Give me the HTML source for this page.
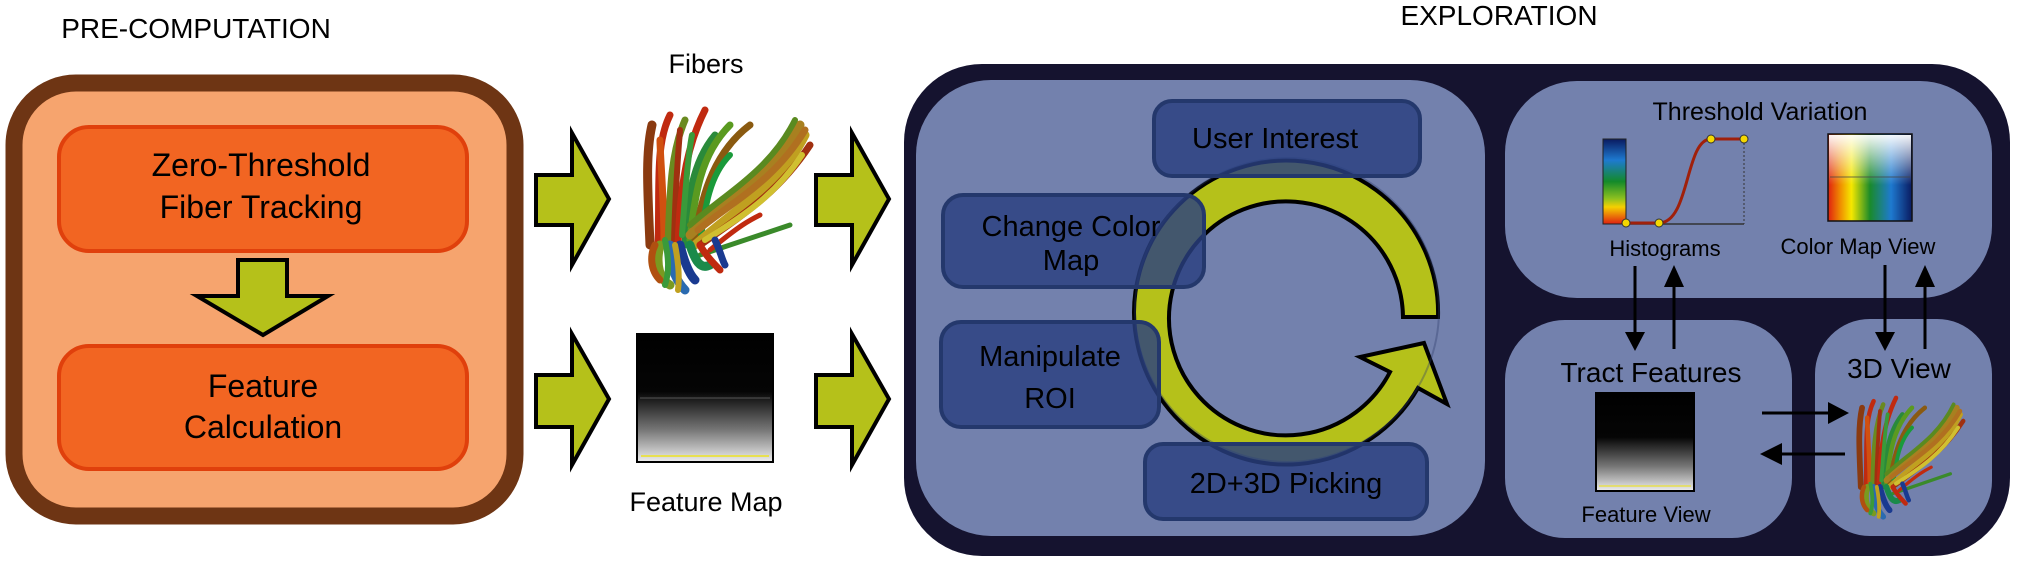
<!DOCTYPE html>
<html><head><meta charset="utf-8"><style>
html,body{margin:0;padding:0;background:#fff;}
svg{display:block;}
text{font-family:"Liberation Sans",sans-serif;fill:#000;}
</style></head><body>
<svg width="2019" height="564" viewBox="0 0 2019 564" xmlns="http://www.w3.org/2000/svg">
<defs>
<linearGradient id="fm" x1="0" y1="0" x2="0" y2="1">
<stop offset="0" stop-color="#000"/><stop offset="0.45" stop-color="#050505"/><stop offset="0.75" stop-color="#777"/><stop offset="1" stop-color="#eee"/></linearGradient>
<linearGradient id="cb" x1="0" y1="0" x2="0" y2="1">
<stop offset="0" stop-color="#0a1a60"/><stop offset="0.25" stop-color="#1e7ad0"/><stop offset="0.5" stop-color="#138a2a"/><stop offset="0.7" stop-color="#8cc020"/><stop offset="0.8" stop-color="#f5d000"/><stop offset="1" stop-color="#e02010"/></linearGradient>
<linearGradient id="cmh" x1="0" y1="0" x2="1" y2="0">
<stop offset="0" stop-color="#e02010"/><stop offset="0.15" stop-color="#f09000"/><stop offset="0.28" stop-color="#f5e800"/><stop offset="0.5" stop-color="#1a8a2a"/><stop offset="0.75" stop-color="#1e7ad0"/><stop offset="1" stop-color="#0a1a60"/></linearGradient>
<linearGradient id="cmv" x1="0" y1="0" x2="0" y2="1">
<stop offset="0" stop-color="#fff" stop-opacity="0.95"/><stop offset="1" stop-color="#fff" stop-opacity="0"/></linearGradient>
<g id="fib" fill="none" stroke-linecap="round">
<path d="M20 150 C18 100 15 60 22 30" stroke="#8a3a10" stroke-width="9"/>
<path d="M28 150 C30 90 25 50 40 20" stroke="#c02a10" stroke-width="7"/>
<path d="M34 150 C34 100 30 60 30 45" stroke="#d05010" stroke-width="7"/>
<path d="M38 150 C40 100 40 60 55 25" stroke="#6a8a20" stroke-width="7"/>
<path d="M44 150 C45 100 48 60 50 35" stroke="#a03010" stroke-width="6"/>
<path d="M48 150 C50 110 52 60 75 15" stroke="#c02a10" stroke-width="7"/>
<path d="M55 150 C58 110 60 70 85 40" stroke="#2a8a3a" stroke-width="7"/>
<path d="M60 145 C65 100 70 60 100 30" stroke="#5a9a20" stroke-width="7"/>
<path d="M65 145 C70 110 80 60 120 30" stroke="#8a5a10" stroke-width="7"/>
<path d="M52 140 C55 100 58 60 62 40" stroke="#3a9a3a" stroke-width="6"/>
<path d="M70 150 C75 110 80 80 100 60" stroke="#1a9a3a" stroke-width="6"/>
<path d="M60 140 C100 100 140 80 170 30" stroke="#a88020" stroke-width="9"/>
<path d="M65 150 C110 110 150 90 175 40" stroke="#c0a020" stroke-width="9"/>
<path d="M70 150 C120 115 150 95 180 50" stroke="#a03010" stroke-width="7"/>
<path d="M75 145 C115 120 145 100 172 60" stroke="#d0c030" stroke-width="6"/>
<path d="M60 130 C100 95 140 75 165 25" stroke="#5a8a20" stroke-width="6"/>
<path d="M68 135 C105 105 145 85 175 35" stroke="#b07020" stroke-width="7"/>
<path d="M70 160 C100 150 130 140 160 130" stroke="#3a8a2a" stroke-width="5"/>
<path d="M80 155 C110 130 120 125 130 120" stroke="#c02a10" stroke-width="5"/>
<path d="M30 150 C25 170 30 185 40 190" stroke="#7a9a20" stroke-width="9"/>
<path d="M40 150 C40 170 45 185 55 195" stroke="#2a6ab0" stroke-width="9"/>
<path d="M50 150 C55 170 60 180 65 185" stroke="#1a3a90" stroke-width="9"/>
<path d="M60 150 C65 165 70 175 80 170" stroke="#1a8a4a" stroke-width="9"/>
<path d="M70 150 C75 160 85 170 90 175" stroke="#c02a10" stroke-width="7"/>
<path d="M25 150 C20 160 20 175 30 185" stroke="#b05010" stroke-width="7"/>
<path d="M35 145 C38 160 40 175 35 190" stroke="#3a9a3a" stroke-width="6"/>
<path d="M85 145 C90 155 92 165 95 170" stroke="#1a3a90" stroke-width="7"/>
<path d="M45 150 C48 165 50 180 48 195" stroke="#c0a020" stroke-width="6"/>
</g>
</defs>

<text x="196" y="38" font-size="28" text-anchor="middle">PRE-COMPUTATION</text>
<rect x="14" y="83" width="501" height="433" rx="62" fill="#f6a46e" stroke="#6e3514" stroke-width="17"/>
<rect x="59" y="127" width="408" height="124" rx="30" fill="#f26522" stroke="#e0400c" stroke-width="4"/>
<text x="261" y="176" font-size="32" text-anchor="middle">Zero-Threshold</text>
<text x="261" y="218" font-size="32" text-anchor="middle">Fiber Tracking</text>
<polygon points="238,260 287,260 287,296 328,296 263,335 197,296 238,296" fill="#b5c11a" stroke="#000" stroke-width="4"/>
<rect x="59" y="346" width="408" height="123" rx="30" fill="#f26522" stroke="#e0400c" stroke-width="4"/>
<text x="263" y="397" font-size="32" text-anchor="middle">Feature</text>
<text x="263" y="438" font-size="32" text-anchor="middle">Calculation</text>

<g fill="#b5c11a" stroke="#000" stroke-width="4">
<polygon points="536,175 572,175 572,133 609,199 572,265 572,225 536,225"/>
<polygon points="536,375 572,375 572,334 609,399 572,465 572,427 536,427"/>
<polygon points="816,175 852,175 852,133 889,199 852,265 852,225 816,225"/>
<polygon points="816,375 852,375 852,334 889,399 852,465 852,427 816,427"/>
</g>

<text x="706" y="73" font-size="27" text-anchor="middle">Fibers</text>
<use href="#fib" transform="translate(630,95)"/>
<rect x="637" y="334" width="136" height="128" fill="url(#fm)" stroke="#000" stroke-width="2"/>
<line x1="640" y1="398" x2="770" y2="398" stroke="#555" stroke-width="1"/>
<line x1="641" y1="456" x2="769" y2="456" stroke="#e8e050" stroke-width="2"/>
<text x="706" y="511" font-size="27" text-anchor="middle">Feature Map</text>

<text x="1499" y="25" font-size="28" text-anchor="middle">EXPLORATION</text>
<rect x="904" y="64" width="1106" height="492" rx="78" fill="#15132f"/>
<rect x="916" y="80" width="569" height="456" rx="75" fill="#7381ad"/>

<path d="M1438 317 A152 152 0 1 0 1418 388 L1447 404 L1424 343 L1360 357 L1390 372 A117 117 0 1 1 1403 317 Z" fill="#b5c11a" stroke="#000" stroke-width="4"/>
<circle cx="1287" cy="310" r="152" fill="none" stroke="#2a3a6a" stroke-width="2" opacity="0.35"/>

<g fill="#2a4080" fill-opacity="0.82" stroke="#24386c" stroke-width="4">
<rect x="1154" y="101" width="266" height="75" rx="18"/>
<rect x="943" y="195" width="261" height="92" rx="20"/>
<rect x="941" y="322" width="218" height="105" rx="20"/>
<rect x="1145" y="444" width="282" height="75" rx="18"/>
</g>
<text x="1275" y="148" font-size="29" text-anchor="middle">User Interest</text>
<text x="1071" y="236" font-size="29" text-anchor="middle">Change Color</text>
<text x="1071" y="270" font-size="29" text-anchor="middle">Map</text>
<text x="1050" y="366" font-size="29" text-anchor="middle">Manipulate</text>
<text x="1050" y="408" font-size="29" text-anchor="middle">ROI</text>
<text x="1286" y="493" font-size="29" text-anchor="middle">2D+3D Picking</text>

<rect x="1505" y="81" width="487" height="217" rx="72" fill="#7381ad"/>
<rect x="1505" y="320" width="287" height="218" rx="60" fill="#7381ad"/>
<rect x="1815" y="319" width="177" height="217" rx="55" fill="#7381ad"/>

<text x="1760" y="120" font-size="25" text-anchor="middle">Threshold Variation</text>
<rect x="1603" y="139" width="23" height="85" fill="url(#cb)" stroke="#222" stroke-width="1"/>
<line x1="1626" y1="224" x2="1744" y2="224" stroke="#333" stroke-width="1.5"/>
<line x1="1744" y1="139" x2="1744" y2="224" stroke="#333" stroke-width="1" stroke-dasharray="2,2"/>
<path d="M1626 223 L1659 223 C1690 223 1685 139 1711 139 L1744 139" fill="none" stroke="#a0200a" stroke-width="3"/>
<g fill="#f5d800" stroke="#333" stroke-width="1"><circle cx="1626" cy="223" r="4"/><circle cx="1659" cy="223" r="4"/><circle cx="1711" cy="139" r="4"/><circle cx="1744" cy="139" r="4"/></g>
<rect x="1828" y="134" width="84" height="87" fill="url(#cmh)" stroke="#111" stroke-width="1.5"/>
<rect x="1829" y="135" width="82" height="50" fill="url(#cmv)"/>
<line x1="1830" y1="177" x2="1910" y2="177" stroke="#444" stroke-width="0.8"/>
<text x="1665" y="256" font-size="22" text-anchor="middle">Histograms</text>
<text x="1858" y="254" font-size="22" text-anchor="middle">Color Map View</text>

<g stroke="#000" stroke-width="3"><line x1="1635" y1="266" x2="1635" y2="335"/><line x1="1674" y1="285" x2="1674" y2="349"/><line x1="1885" y1="265" x2="1885" y2="335"/><line x1="1925" y1="285" x2="1925" y2="349"/>
<line x1="1762" y1="413" x2="1830" y2="413"/><line x1="1780" y1="454" x2="1845" y2="454"/></g>
<g fill="#000"><polygon points="1625,332 1645,332 1635,351"/><polygon points="1664,287 1684,287 1674,265"/><polygon points="1875,332 1895,332 1885,351"/><polygon points="1915,287 1935,287 1925,265"/>
<polygon points="1828,402 1828,424 1849,413"/><polygon points="1782,443 1782,465 1760,454"/></g>

<text x="1651" y="382" font-size="28" text-anchor="middle">Tract Features</text>
<text x="1899" y="378" font-size="28" text-anchor="middle">3D View</text>
<rect x="1596" y="393" width="98" height="98" fill="url(#fm)" stroke="#000" stroke-width="2"/>
<line x1="1599" y1="486" x2="1691" y2="486" stroke="#e8e050" stroke-width="1.5"/>
<text x="1646" y="522" font-size="22" text-anchor="middle">Feature View</text>
<use href="#fib" transform="translate(1848,388) scale(0.64,0.66)"/>
</svg>
</body></html>
